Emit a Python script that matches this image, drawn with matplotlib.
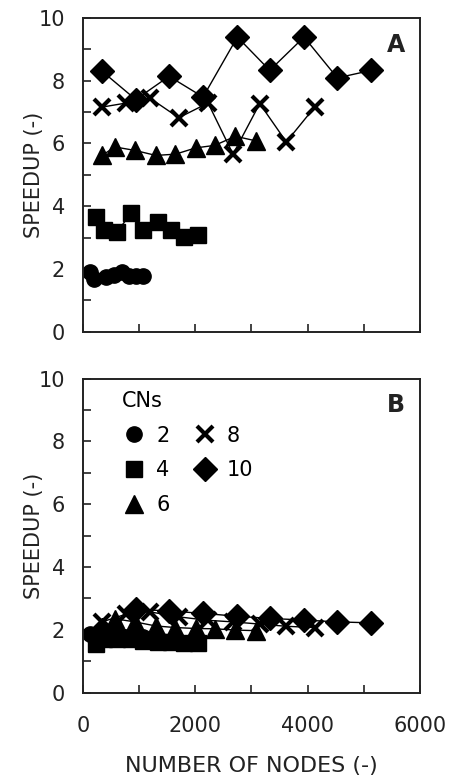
import numpy as np
import matplotlib.pyplot as plt
from matplotlib.lines import Line2D
from matplotlib.ticker import MultipleLocator

plt.rcParams['font.family'] = ['DejaVu Sans']

# number of nodes per CN series (same in both panels)
nodes_cn2 = [130, 206, 415, 562, 698, 829, 947, 1066]
nodes_cn4 = [237, 384, 603, 858, 1078, 1333, 1570, 1807, 2045]
nodes_cn6 = [342, 568, 925, 1299, 1648, 2009, 2347, 2715, 3089]
nodes_cn8 = [342, 775, 1190, 1707, 2228, 2673, 3148, 3622, 4126]
nodes_cn10 = [342, 941, 1534, 2139, 2750, 3326, 3937, 4530, 5135]

# panel A speedup
a_cn2 = [1.91, 1.68, 1.76, 1.80, 1.91, 1.78, 1.77, 1.77]
a_cn4 = [3.66, 3.26, 3.18, 3.77, 3.26, 3.50, 3.26, 3.02, 3.08]
a_cn6 = [5.62, 5.89, 5.78, 5.62, 5.66, 5.86, 5.94, 6.23, 6.08]
a_cn8 = [7.16, 7.29, 7.45, 6.82, 7.29, 5.66, 7.27, 6.05, 7.16]
a_cn10 = [8.30, 7.40, 8.14, 7.48, 9.39, 8.33, 9.39, 8.09, 8.33]

# panel B speedup
b_cn2 = [1.85, 1.78, 1.80, 1.82, 1.80, 1.78, 1.77, 1.78]
b_cn4 = [1.55, 1.70, 1.72, 1.70, 1.65, 1.62, 1.60, 1.58, 1.58]
b_cn6 = [1.95, 2.35, 2.25, 2.12, 2.07, 2.04, 2.03, 1.99, 1.97]
b_cn8 = [2.25, 2.50, 2.57, 2.41, 2.30, 2.25, 2.18, 2.11, 2.07]
b_cn10 = [2.00, 2.65, 2.60, 2.52, 2.43, 2.36, 2.31, 2.25, 2.22]

cn_labels = ['2', '4', '6', '8', '10']
markers = ['o', 's', '^', 'x', 'D']
msizes = [11, 11, 13, 11, 12]
nodes = [nodes_cn2, nodes_cn4, nodes_cn6, nodes_cn8, nodes_cn10]
panel_a = [a_cn2, a_cn4, a_cn6, a_cn8, a_cn10]
panel_b = [b_cn2, b_cn4, b_cn6, b_cn8, b_cn10]

fig = plt.figure(figsize=(4.53, 7.79), dpi=100)
ax_a = fig.add_axes([0.183, 0.574, 0.744, 0.403])
ax_b = fig.add_axes([0.183, 0.111, 0.744, 0.403])


def draw_panel(ax, data, letter):
    for x, y, m, ms in zip(nodes, data, markers, msizes):
        mew = 3 if m == 'x' else 1
        ax.plot(x, y, color='black', lw=1, marker=m, ms=ms,
                mfc='black', mec='black', mew=mew)
    ax.set_xlim(0, 6000)
    ax.set_ylim(0, 10)
    ax.xaxis.set_major_locator(MultipleLocator(2000))
    ax.xaxis.set_minor_locator(MultipleLocator(1000))
    ax.yaxis.set_major_locator(MultipleLocator(2))
    ax.yaxis.set_minor_locator(MultipleLocator(1))
    ax.tick_params(which='both', direction='in', length=6, width=1.2,
                   top=False, right=False, labelsize=15, colors='#222222')
    ax.tick_params(axis='y', pad=13)
    ax.tick_params(axis='x', pad=17)
    for sp in ax.spines.values():
        sp.set_linewidth(1.4)
        sp.set_color('#222222')
    ax.set_ylabel('SPEEDUP (-)', fontsize=15, labelpad=-4, color='#222222')
    ax.text(0.93, 0.915, letter, transform=ax.transAxes, fontsize=17,
            fontweight='bold', ha='center', va='center', color='#222222')


draw_panel(ax_a, panel_a, 'A')
draw_panel(ax_b, panel_b, 'B')
ax_a.tick_params(axis='x', labelbottom=False)
ax_b.set_xlabel('NUMBER OF NODES (-)', fontsize=16, labelpad=14, color='#222222')

handles = []
for m, ms, lab in zip(markers, msizes, cn_labels):
    mew = 3 if m == 'x' else 1
    handles.append(Line2D([], [], ls='none', marker=m, ms=ms, color='black',
                          mfc='black', mec='black', mew=mew, label=lab))
leg = ax_b.legend(handles=handles, ncol=2, title='CNs', loc='upper left',
                  bbox_to_anchor=(0.06, 1.02), frameon=False, fontsize=15,
                  title_fontsize=15, alignment='left', handletextpad=0.45,
                  columnspacing=1.1, labelspacing=0.7, handlelength=1.2)

fig.savefig('out.png', dpi=100)
